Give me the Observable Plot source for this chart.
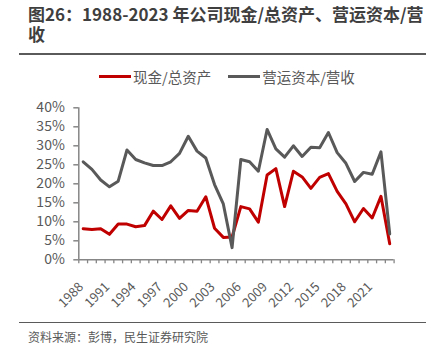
<!DOCTYPE html>
<html><head><meta charset="utf-8">
<script src="https://cdn.jsdelivr.net/npm/d3@7"></script>
<script src="https://cdn.jsdelivr.net/npm/@observablehq/plot@0.6"></script>
<style>
html,body{margin:0;padding:0;background:#fff;}
#wrap{position:relative;width:431px;height:354px;overflow:hidden;font-family:"Noto Sans CJK SC","Noto Sans",sans-serif;}
.title{position:absolute;left:28px;font-size:17px;font-weight:bold;line-height:18px;height:18px;color:#3f3f3f;white-space:nowrap;}
.hr{position:absolute;left:19px;width:407px;height:1.5px;background:#5a5a5a;}
#legend{position:absolute;left:99px;top:66px;font-size:14.5px;color:#595959;display:flex;align-items:center;white-space:nowrap;}
.sw{display:inline-block;width:32px;height:3px;margin-right:2px;}
#caption{position:absolute;left:28px;top:328px;font-size:12px;color:#595959;white-space:nowrap;}
#chart{position:absolute;left:0;top:0;}
</style></head>
<body>
<div id="wrap">
<div id="chart"></div>
<div class="title" style="top:5px">图26：1988-2023 年公司现金/总资产、营运资本/营</div>
<div class="title" style="top:25px">收</div>
<div class="hr" style="top:53px"></div>
<div id="legend"><span class="sw" style="background:#c00000"></span><span>现金/总资产</span><span style="display:inline-block;width:17px"></span><span class="sw" style="background:#595959"></span><span>营运资本/营收</span></div>
<div class="hr" style="top:321.5px"></div>
<div id="caption">资料来源：彭博，民生证券研究院</div>
</div>
<script>
const years = [1988,1989,1990,1991,1992,1993,1994,1995,1996,1997,1998,1999,2000,2001,2002,2003,2004,2005,2006,2007,2008,2009,2010,2011,2012,2013,2014,2015,2016,2017,2018,2019,2020,2021,2022,2023];
const cashToAssets = [8.2,8.0,8.2,6.7,9.4,9.4,8.7,9.0,12.8,10.6,14.2,10.9,13.0,12.8,16.6,8.3,5.9,6.0,14.0,13.4,9.9,22.3,24.0,14.0,23.3,21.8,18.8,21.7,22.7,18.0,14.7,10.0,13.5,11.0,16.7,4.2];
const workingCapToRevenue = [25.8,23.8,21.0,19.2,20.7,28.9,26.4,25.5,24.8,24.8,25.8,28.0,32.5,28.6,26.8,19.8,14.7,3.2,26.4,25.8,23.3,34.3,29.2,27.0,30.0,27.2,29.6,29.5,33.5,28.2,25.4,20.6,23.0,22.5,28.4,6.8];
const yTicks = [0,5,10,15,20,25,30,35,40];
const xLabelYears = [1988,1991,1994,1997,2000,2003,2006,2009,2012,2015,2018,2021];
const seriesNames = ["现金/总资产","营运资本/营收"];

const data = years.map((y,i)=>({year:y, cash:cashToAssets[i], wc:workingCapToRevenue[i]}));
const boundaries = years.map(y=>y-0.5).concat([years[years.length-1]+0.5]);
const axisColor = "#868686";

const chart = Plot.plot({
  width: 431, height: 354,
  marginLeft: 78.3, marginRight: 37.4, marginTop: 107.3, marginBottom: 94.7,
  x: {type:"linear", domain:[years[0]-0.5, years[years.length-1]+0.5]},
  y: {domain:[0,40]},
  style: {fontFamily:'"Noto Sans CJK SC","Noto Sans",sans-serif', color:"#595959", background:"transparent"},
  marks: [
    Plot.axisY({ticks: yTicks, tickFormat: d => d + "%", tickSize: 5, tickPadding: 9, fontSize: 14, stroke: axisColor, strokeWidth: 1.5, strokeOpacity: 1, fill:"#595959", label: null}),
    Plot.axisX({ticks: boundaries, tickFormat: () => "", tickSize: 4, stroke: axisColor, strokeWidth: 1.3, strokeOpacity: 1, label: null}),
    Plot.text(xLabelYears, {x: d => d, frameAnchor: "bottom", text: d => String(d), rotate: -45, textAnchor: "end", lineAnchor: "middle", dy: 25, dx: -2, fontSize: 13, fill: "#595959"}),
    Plot.ruleX([years[0]-0.5], {stroke: axisColor, strokeWidth: 1.5}),
    Plot.ruleY([0], {stroke: axisColor, strokeWidth: 1.5}),
    Plot.line(data, {x:"year", y:"cash", stroke:"#c00000", strokeWidth:3}),
    Plot.line(data, {x:"year", y:"wc", stroke:"#595959", strokeWidth:3})
  ]
});
document.getElementById("chart").appendChild(chart);
</script>
</body></html>
